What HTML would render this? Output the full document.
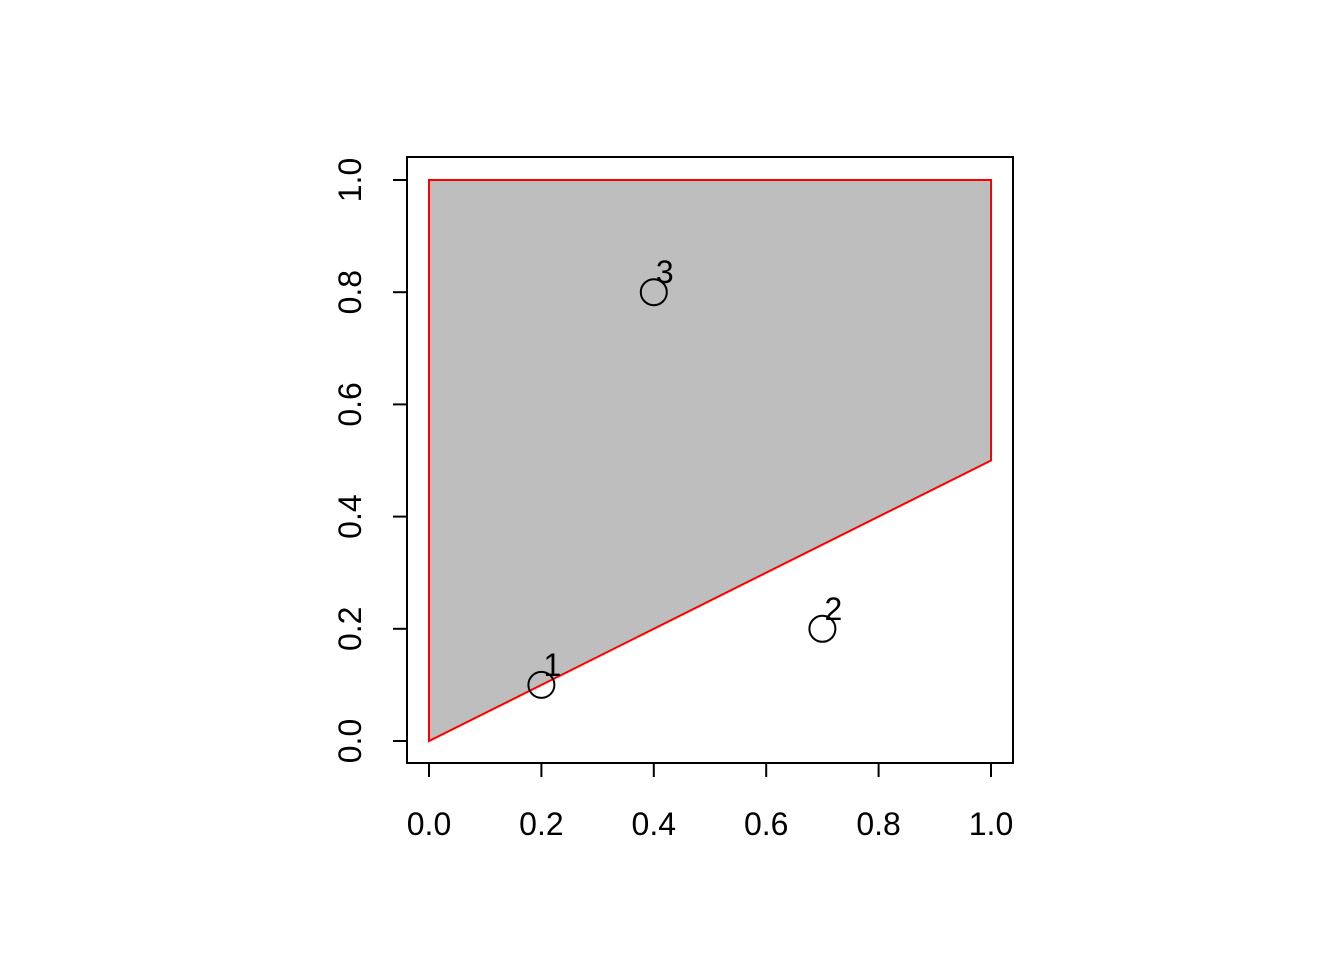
<!DOCTYPE html>
<html><head><meta charset="utf-8"><style>body{margin:0;background:#fff}svg{display:block}text{font-family:"Liberation Sans",Arial,sans-serif;font-size:32px;fill:#000}</style></head>
<body>
<svg width="1344" height="960">
<g id="plot"></g>
</svg>
<script>
const polyX=[0,0,1,1];
const polyY=[0,1,1,0.5];
const ptX=[0.2,0.7,0.4];
const ptY=[0.1,0.2,0.8];
const ptLabels=["1","2","3"];
const ticks=[0,0.2,0.4,0.6,0.8,1.0];
const tickLabels=["0.0","0.2","0.4","0.6","0.8","1.0"];
const sx=v=>429+v*562, sy=v=>741-v*561;
const g=document.getElementById('plot');const NS='http://www.w3.org/2000/svg';
function el(t,a,txt){const e=document.createElementNS(NS,t);for(const k in a)e.setAttribute(k,a[k]);if(txt!=null)e.textContent=txt;g.appendChild(e);return e;}
const poly=el('polygon',{points:polyX.map((x,i)=>sx(x)+','+sy(polyY[i])).join(' '),fill:'#bebebe',stroke:'#ff0000','stroke-width':2});


const box=el('rect',{x:407,y:157,width:606,height:606,fill:'none',stroke:'#000','stroke-width':2});


ticks.forEach((t,i)=>{
 const a=el('line',{x1:sx(t),x2:sx(t),y1:763,y2:777,stroke:'#000','stroke-width':2});
 
 
 const b=el('text',{x:sx(t),y:835,'text-anchor':'middle'},tickLabels[i]);
 
 
 const c=el('line',{x1:393,x2:407,y1:sy(t),y2:sy(t),stroke:'#000','stroke-width':2});
 
 
 const d=el('text',{x:0,y:0,'text-anchor':'middle',transform:`translate(361,${sy(t)}) rotate(-90)`},tickLabels[i]);
 
 
});
ptX.forEach((x,i)=>{
 const c=el('circle',{cx:sx(x),cy:sy(ptY[i]),r:13,fill:'none',stroke:'#000','stroke-width':2});
 
 
 const t=el('text',{x:sx(x)+11,y:sy(ptY[i])-9,'text-anchor':'middle'},ptLabels[i]);
 
 
});
</script>
</body></html>
